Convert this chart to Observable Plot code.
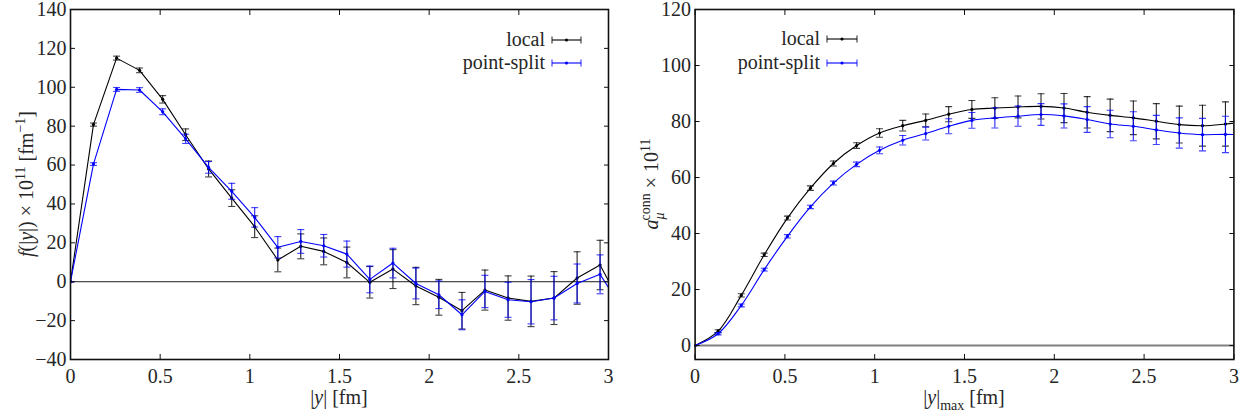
<!DOCTYPE html>
<html><head><meta charset="utf-8">
<script src="https://cdn.jsdelivr.net/npm/d3@7"></script>
<script src="https://cdn.jsdelivr.net/npm/@observablehq/plot@0.6"></script>
<style>
body{margin:0;background:#fff}
#wrap{display:flex;width:1247px;height:417px;overflow:hidden}
#wrap svg{display:block}
#wrap svg text, #wrap svg tspan{font-family:"Liberation Serif" !important}
</style></head><body><div id="wrap"></div>
<script>
// ---- data ----
const xs = [0, 0.128, 0.257, 0.385, 0.514, 0.642, 0.770, 0.899, 1.027, 1.156, 1.284, 1.412, 1.541, 1.669, 1.798, 1.926, 2.054, 2.183, 2.311, 2.440, 2.568, 2.696, 2.825, 2.953, 3.082];

const fLocal    = [0, 80.8, 115.0, 108.7, 93.8, 75.6, 58.0, 43.0, 28.3, 11.2, 18.2, 15.6, 9.9, -0.3, 6.5, -2.2, -8.0, -14.9, -4.3, -8.4, -10.1, -8.4, 1.9, 8.6, -13.7];
const fLocalErr = [0, 0.8, 1.0, 1.2, 1.9, 3.0, 4.1, 4.3, 5.6, 6.1, 6.4, 6.9, 7.9, 8.1, 10.0, 9.6, 9.2, 9.4, 10.3, 11.4, 13.0, 13.6, 13.5, 12.7, 13.0];
const fSplit    = [0, 60.5, 98.9, 98.6, 87.4, 73.5, 58.8, 46.5, 33.1, 17.7, 20.7, 18.5, 14.2, 1.2, 9.6, -0.9, -6.7, -17.0, -5.0, -9.3, -10.3, -8.4, -0.9, 3.8, -14.9];
const fSplitErr = [0, 0.7, 1.0, 1.2, 1.5, 2.4, 3.0, 4.1, 5.0, 5.5, 6.1, 5.8, 6.7, 6.9, 7.6, 7.9, 7.1, 7.7, 8.3, 9.0, 11.4, 11.2, 10.0, 10.0, 10.0];

const aLocal    = [0, 5.1, 17.9, 32.4, 45.5, 56.2, 65.0, 71.4, 75.9, 78.5, 80.4, 82.6, 84.3, 84.8, 85.2, 85.4, 84.8, 83.3, 82.2, 81.3, 80.1, 78.9, 78.5, 79.1, 80.0];
const aLocalErr = [0, 0.5, 0.6, 0.6, 0.7, 0.8, 0.9, 1.0, 1.5, 1.9, 2.3, 2.7, 3.2, 3.7, 3.9, 4.5, 5.2, 5.6, 5.8, 6.0, 6.3, 6.6, 7.3, 7.9, 8.2];
const aSplit    = [0, 4.2, 14.3, 27.1, 39.0, 49.5, 58.0, 64.7, 69.7, 73.3, 75.7, 78.3, 80.4, 81.3, 81.9, 82.5, 82.0, 80.7, 79.1, 78.3, 77.0, 75.9, 75.3, 75.4, 75.2];
const aSplitErr = [0, 0.4, 0.5, 0.5, 0.6, 0.6, 0.7, 0.8, 1.2, 1.7, 2.3, 2.7, 2.8, 3.6, 3.6, 3.9, 4.3, 4.6, 4.9, 5.2, 5.2, 5.4, 5.8, 6.5, 6.8];

const xTicks = [0, 0.5, 1, 1.5, 2, 2.5, 3];
const yTicksLeft = [-40, -20, 0, 20, 40, 60, 80, 100, 120, 140];
const yTicksRight = [0, 20, 40, 60, 80, 100, 120];
const seriesNames = ["local", "point-split"];
const seriesColors = ["#000000", "#0000ff"];

// ---- helpers ----
const FONT = "Liberation Serif";
const FS = 20;
const TXT = "#262626";
const capSymbol = {draw(ctx, size) { const w = Math.sqrt(size / Math.PI); ctx.moveTo(-w, 0); ctx.lineTo(w, 0); }};
const fmtNum = d => d < 0 ? "\u2212" + (-d) : String(d);

function rows(ys, es) { return xs.map((x, i) => ({x, y: ys[i], e: es[i]})); }

function seriesMarks(data, color, curve) {
  return [
    Plot.line(data, {x: "x", y: "y", stroke: color, strokeWidth: 1.1, curve, clip: true}),
    Plot.ruleX(data, {x: "x", y1: d => d.y - d.e, y2: d => d.y + d.e, stroke: color, strokeWidth: 1.1, strokeOpacity: 0.85, clip: true}),
    Plot.dot(data, {x: "x", y: d => d.y - d.e, symbol: capSymbol, r: 3.5, fill: "none", stroke: color, strokeWidth: 1.1, strokeOpacity: 0.75, clip: true}),
    Plot.dot(data, {x: "x", y: d => d.y + d.e, symbol: capSymbol, r: 3.5, fill: "none", stroke: color, strokeWidth: 1.1, strokeOpacity: 0.75, clip: true}),
    Plot.dot(data, {x: "x", y: "y", r: 1.6, fill: color, stroke: "none", clip: true})
  ];
}

function panel({width, marginLeft, marginRight, yDomain, yTicks, data, zeroStroke, zeroWidth, curve}) {
  return Plot.plot({
    width, height: 417, marginLeft, marginRight, marginTop: 9, marginBottom: 58,
    style: {fontFamily: FONT, fontSize: FS + "px", color: TXT, background: "white", overflow: "visible"},
    x: {domain: [0, 3]},
    y: {domain: yDomain},
    marks: [
      Plot.ruleY([0], {stroke: zeroStroke, strokeWidth: zeroWidth}),
      ...seriesMarks(data[0], seriesColors[0], curve),
      ...seriesMarks(data[1], seriesColors[1], curve),
      Plot.axisX({anchor: "bottom", ticks: xTicks, tickSize: 0, tickPadding: 9, tickFormat: fmtNum, label: null, fontSize: FS, fontFamily: FONT, fill: TXT}),
      Plot.axisX({anchor: "bottom", ticks: xTicks, tickSize: 5, text: null, dy: -5, label: null, stroke: "#111"}),
      Plot.axisX({anchor: "top", ticks: xTicks, tickSize: 5, text: null, dy: 5, label: null, stroke: "#111"}),
      Plot.axisY({anchor: "left", ticks: yTicks, tickSize: 0, tickPadding: 4, tickFormat: fmtNum, label: null, fontSize: FS, fontFamily: FONT, fill: TXT}),
      Plot.axisY({anchor: "left", ticks: yTicks, tickSize: 5, text: null, dx: 5, label: null, stroke: "#111"}),
      Plot.axisY({anchor: "right", ticks: yTicks, tickSize: 5, text: null, dx: -5, label: null, stroke: "#111"}),
      Plot.frame({stroke: "#111", strokeWidth: 1.6})
    ]
  });
}

function mathText(sel, parts, size) {
  const text = sel.append("text").attr("font-family", FONT).attr("font-size", size).attr("fill", TXT).attr("text-anchor", "middle");
  let cur = 0;
  for (const p of parts) {
    const target = p.sup ? -size * 0.42 : p.sub ? size * 0.28 : 0;
    const ts = text.append("tspan").text(p.t).attr("dy", target - cur);
    if (p.dx) ts.attr("dx", p.dx);
    if (p.sup || p.sub) ts.attr("font-size", size * 0.7);
    if (p.it) ts.attr("font-style", "italic");
    cur = target;
  }
  return text;
}

function legend(svg, xText, xs0, xs1, ys) {
  const g = d3.select(svg).append("g");
  seriesNames.forEach((name, i) => {
    const y = ys[i], c = seriesColors[i];
    g.append("text").attr("x", xText).attr("y", y).attr("dy", "0.32em").attr("text-anchor", "end")
      .attr("font-family", FONT).attr("font-size", FS).attr("fill", TXT).text(name);
    g.append("line").attr("x1", xs0).attr("x2", xs1).attr("y1", y).attr("y2", y).attr("stroke", c).attr("stroke-width", 1.1);
    for (const xx of [xs0, xs1]) g.append("line").attr("x1", xx).attr("x2", xx).attr("y1", y - 3.5).attr("y2", y + 3.5).attr("stroke", c).attr("stroke-width", 1.1).attr("stroke-opacity", 0.8);
    g.append("circle").attr("cx", (xs0 + xs1) / 2).attr("cy", y).attr("r", 1.6).attr("fill", c);
  });
}

// ---- build ----
const wrap = document.getElementById("wrap");

const left = panel({width: 620, marginLeft: 70, marginRight: 12, yDomain: [-40, 140], yTicks: yTicksLeft,
  data: [rows(fLocal, fLocalErr), rows(fSplit, fSplitErr)], zeroStroke: "#000", zeroWidth: 0.9, curve: "linear"});
wrap.appendChild(left);

const right = panel({width: 627, marginLeft: 74.6, marginRight: 13.6, yDomain: [-5, 120], yTicks: yTicksRight,
  data: [rows(aLocal, aLocalErr), rows(aSplit, aSplitErr)], zeroStroke: "#808080", zeroWidth: 2, curve: "catmull-rom"});
wrap.appendChild(right);

// axis labels
{
  const s = d3.select(left);
  mathText(s.append("g").attr("transform", "translate(33,184) rotate(-90)"),
    [{t: "f", it: 1}, {t: "(|"}, {t: "y", it: 1}, {t: "|) \u00d7 10"}, {t: "11", sup: 1}, {t: " [fm"}, {t: "\u22121", sup: 1}, {t: "]"}], FS);
  mathText(s.append("g").attr("transform", "translate(339,404)"),
    [{t: "|"}, {t: "y", it: 1}, {t: "| [fm]"}], FS);
}
{
  const s = d3.select(right);
  mathText(s.append("g").attr("transform", "translate(38,184) rotate(-90)"),
    [{t: "a", it: 1}, {t: "\u03bc", it: 1, sub: 1}, {t: "conn", sup: 1, dx: -8}, {t: " \u00d7 10"}, {t: "11", sup: 1}], FS);
  mathText(s.append("g").attr("transform", "translate(344,404)"),
    [{t: "|"}, {t: "y", it: 1}, {t: "|"}, {t: "max", sub: 1}, {t: " [fm]"}], FS);
}

legend(left, 545, 552, 581, [40, 63]);
legend(right, 200, 207, 237, [39, 63]);
</script></body></html>
